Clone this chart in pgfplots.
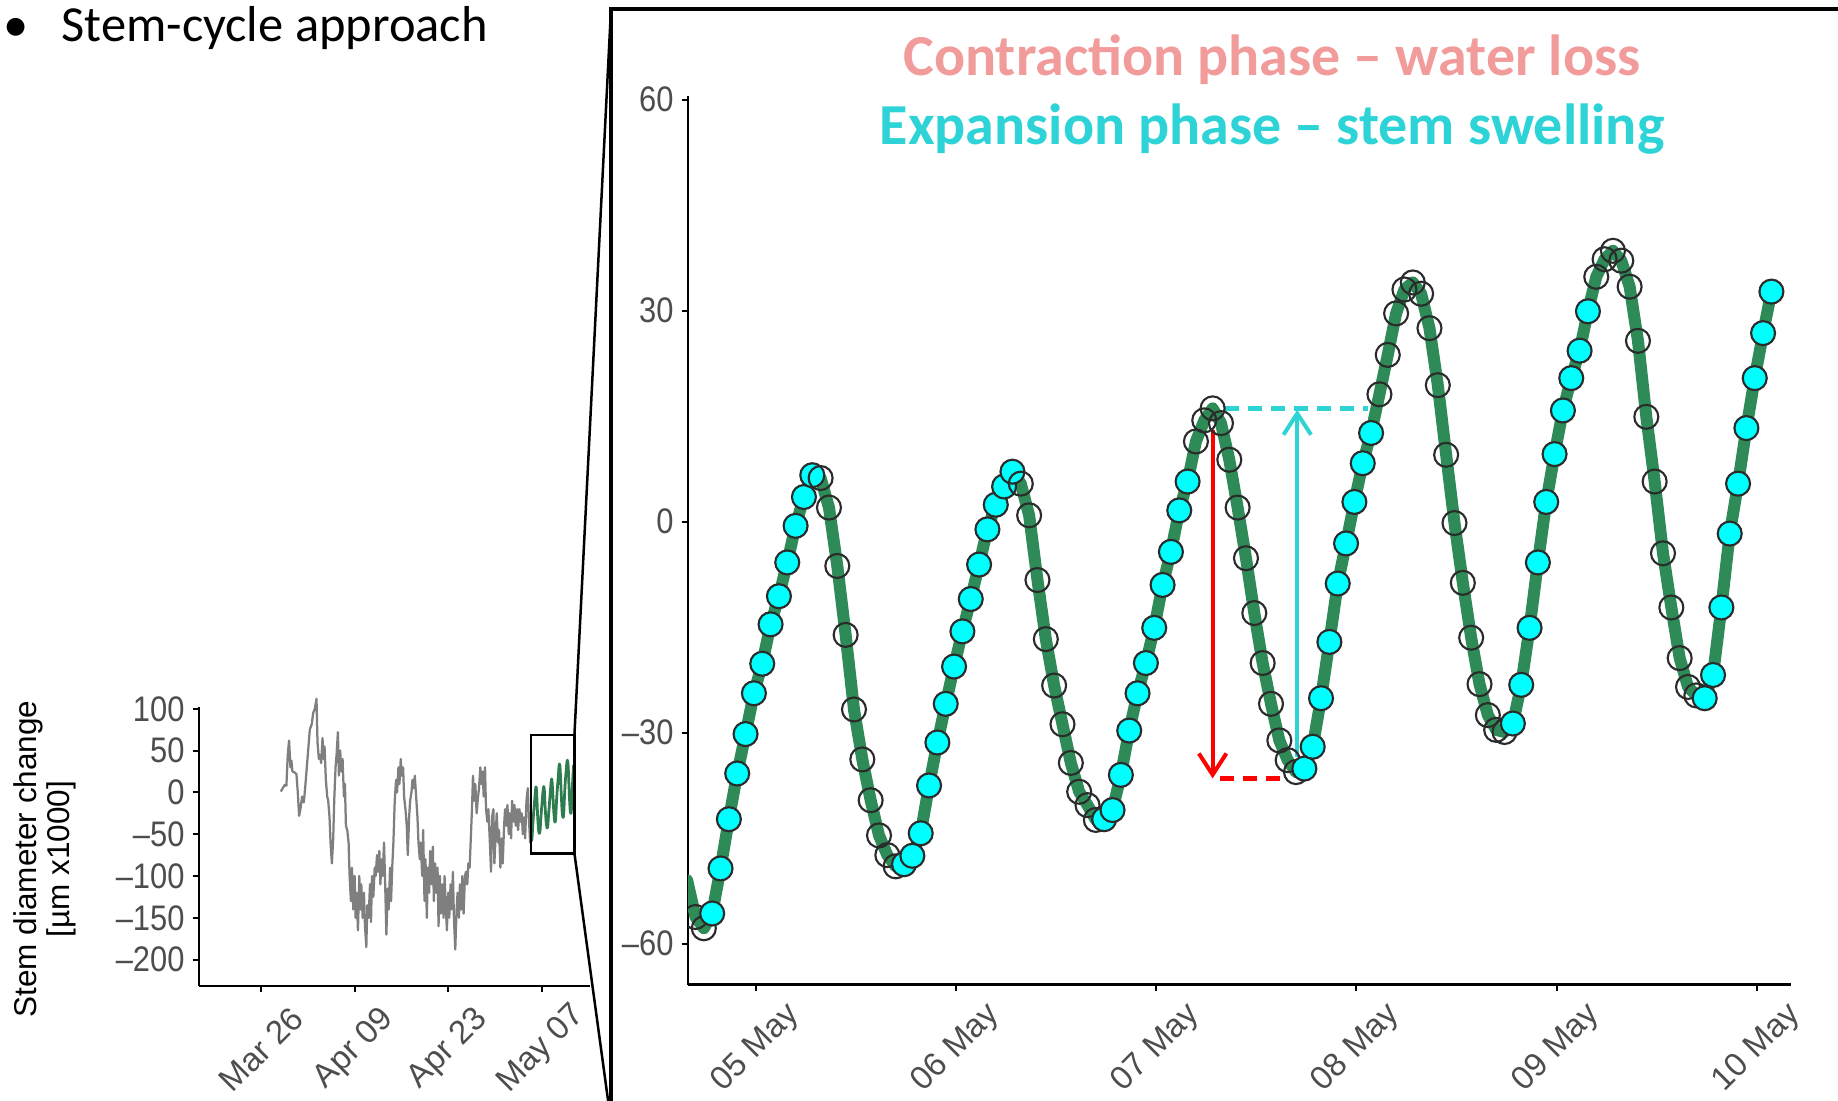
\documentclass[border=0pt]{standalone}
\usepackage{fontspec}
\usepackage{pgfplots}
\usepackage{pgfplotstable}
\pgfplotsset{compat=1.18}
\usetikzlibrary{arrows.meta,calc}
\setmainfont{Liberation Sans}
\newfontfamily\tickfont{Liberation Sans}[FakeStretch=0.87]
\newfontfamily\calibri{Carlito}
\newcommand\tickfnt{\tickfont\fontsize{14.2pt}{16pt}\selectfont}
\newcommand\xtickfnt{\fontsize{13.2pt}{15pt}\selectfont}

\definecolor{ptcyan}{HTML}{00FFFF}
\definecolor{ptedge}{HTML}{2B2B2B}
\definecolor{lngreen}{HTML}{2E8B57}
\definecolor{smgreen}{HTML}{2E7D4F}
\definecolor{lngray}{HTML}{7F7F7F}
\definecolor{tickgray}{HTML}{4D4D4D}
\definecolor{ctred}{HTML}{F29B9B}
\definecolor{excyan}{HTML}{2DD3D6}
\definecolor{arcyan}{HTML}{2ED3D3}

% hourly stem diameter change, hours from 05 May 00:00; c = contraction, e = expansion
\pgfplotstableread{
h v c
-8.25 -51.0 c
-7.25 -56.2 c
-6.25 -57.8 c
-5.25 -55.7 e
-4.25 -49.3 e
-3.25 -42.3 e
-2.25 -35.8 e
-1.25 -30.2 e
-0.25 -24.4 e
0.75 -20.2 e
1.75 -14.6 e
2.75 -10.6 e
3.75 -5.8 e
4.75 -0.6 e
5.75 3.5 e
6.75 6.6 e
7.75 6.2 c
8.75 2.0 c
9.75 -6.3 c
10.75 -16.1 c
11.75 -26.7 c
12.75 -33.8 c
13.75 -39.6 c
14.75 -44.6 c
15.75 -47.4 c
16.75 -49.0 c
17.75 -48.7 e
18.75 -47.5 e
19.75 -44.3 e
20.75 -37.5 e
21.75 -31.4 e
22.75 -25.9 e
23.75 -20.6 e
24.75 -15.6 e
25.75 -11.0 e
26.75 -6.1 e
27.75 -1.1 e
28.75 2.4 e
29.75 5.0 e
30.75 7.1 e
31.75 5.4 c
32.75 0.9 c
33.75 -8.3 c
34.75 -16.7 c
35.75 -23.3 c
36.75 -28.8 c
37.75 -34.3 c
38.75 -38.4 c
39.75 -40.3 c
40.75 -42.4 c
41.75 -42.3 e
42.75 -41.0 e
43.75 -36.0 e
44.75 -29.7 e
45.75 -24.4 e
46.75 -20.1 e
47.75 -15.1 e
48.75 -9.0 e
49.75 -4.3 e
50.75 1.6 e
51.75 5.7 e
52.75 11.4 c
53.75 14.4 c
54.75 16.1 c
55.75 14.0 c
56.75 8.8 c
57.75 2.0 c
58.75 -5.2 c
59.75 -13.0 c
60.75 -20.1 c
61.75 -25.9 c
62.75 -31.1 c
63.75 -33.9 c
64.75 -35.6 c
65.75 -35.1 e
66.75 -32.0 e
67.75 -25.1 e
68.75 -17.1 e
69.75 -8.8 e
70.75 -3.1 e
71.75 2.8 e
72.75 8.3 e
73.75 12.6 e
74.75 18.1 c
75.75 23.7 c
76.75 29.6 c
77.75 33.0 c
78.75 34.0 c
79.75 32.4 c
80.75 27.5 c
81.75 19.4 c
82.75 9.5 c
83.75 -0.2 c
84.75 -8.7 c
85.75 -16.5 c
86.75 -23.1 c
87.75 -27.5 c
88.75 -29.6 c
89.75 -29.9 c
90.75 -28.7 e
91.75 -23.2 e
92.75 -15.1 e
93.75 -5.8 e
94.75 2.8 e
95.75 9.6 e
96.75 15.8 e
97.75 20.4 e
98.75 24.3 e
99.75 29.9 e
100.75 34.8 c
101.75 37.3 c
102.75 38.5 c
103.75 37.1 c
104.75 33.4 c
105.75 25.7 c
106.75 14.9 c
107.75 5.7 c
108.75 -4.5 c
109.75 -12.2 c
110.75 -19.4 c
111.75 -23.5 c
112.75 -24.7 c
113.75 -25.1 e
114.75 -21.8 e
115.75 -12.2 e
116.75 -1.7 e
117.75 5.4 e
118.75 13.3 e
119.75 20.4 e
120.75 26.8 e
121.75 32.7 e
}\cycledata

% season record, days from 26 March
\pgfplotstableread{
d v
2.96 1
3.25 5
3.55 9
3.8 8
4.0 45
4.2 62
4.4 30
4.55 38
4.7 25
5.0 24
5.3 22
5.5 0
5.7 -28
5.9 -20
6.15 -5
6.4 -12
6.6 5
6.85 30
7.1 55
7.3 75
7.6 82
7.8 95
8.05 100
8.3 112
8.45 60
8.65 40
8.8 45
9.0 35
9.2 65
9.35 40
9.5 55
9.7 15
9.9 -5
10.05 -10
10.25 -30
10.4 -60
10.6 -85
10.8 -55
10.95 -10
11.15 30
11.3 45
11.5 72
11.65 20
11.85 50
12.0 25
12.2 40
12.4 -5
12.55 10
12.7 -40
12.9 -45
13.1 -60
13.25 -100
13.45 -130
13.6 -90
13.8 -140
14.0 -100
14.15 -150
14.3 -120
14.5 -165
14.7 -100
14.85 -140
15.0 -110
15.2 -150
15.4 -120
15.55 -160
15.75 -185
15.9 -135
16.1 -150
16.3 -110
16.45 -155
16.6 -100
16.8 -125
17.0 -90
17.15 -100
17.35 -75
17.5 -95
17.7 -70
17.85 -110
18.05 -80
18.2 -100
18.4 -60
18.6 -120
18.75 -170
18.95 -115
19.1 -140
19.3 -90
19.45 -130
19.65 -85
19.8 -60
20.0 -10
20.2 15
20.35 0
20.55 30
20.7 10
20.9 40
21.05 20
21.25 30
21.4 -5
21.6 -20
21.8 -40
21.95 -75
22.15 -30
22.3 -10
22.5 0
22.65 15
22.85 5
23.0 20
23.2 -5
23.4 -30
23.55 -60
23.75 -80
23.9 -60
24.1 -100
24.25 -45
24.45 -130
24.6 -80
24.8 -150
24.95 -90
25.15 -120
25.3 -70
25.5 -110
25.7 -65
25.85 -130
26.05 -85
26.2 -120
26.4 -90
26.55 -160
26.75 -100
26.9 -145
27.1 -110
27.3 -150
27.45 -100
27.65 -140
27.8 -165
28.0 -120
28.15 -150
28.35 -110
28.5 -140
28.7 -95
28.85 -150
29.05 -188
29.25 -140
29.4 -120
29.6 -150
29.75 -110
29.95 -140
30.1 -100
30.3 -145
30.5 -100
30.65 -95
30.85 -110
31.0 -85
31.2 -90
31.35 -60
31.55 -20
31.7 20
31.9 -10
32.05 10
32.25 -25
32.4 -10
32.6 5
32.8 30
32.95 10
33.15 25
33.3 -5
33.5 30
33.65 -20
33.85 -35
34.0 -20
34.2 -55
34.4 -95
34.55 -30
34.75 -20
34.9 -85
35.1 -50
35.25 -25
35.45 -60
35.6 -45
35.8 -90
36.0 -55
36.15 -85
36.35 -40
36.5 -20
36.7 -40
36.85 -15
37.05 -50
37.2 -25
37.4 -55
37.55 -10
37.75 -35
37.9 -15
38.1 -40
38.3 -20
38.45 -45
38.65 -20
38.8 -35
39.0 -25
39.15 -50
39.35 -30
39.5 -55
39.7 -10
39.9 5
40.05 -30
40.25 -60
40.4 -45
}\seasondata

\pgfplotsset{
  ggclassic/.style={
    scale only axis,
    axis x line=bottom, axis y line=left,
    axis line style={-, line width=1pt, black},
    tick align=outside,
    major tick length=2.6pt,
    tick style={line width=0.8pt, black},
    ticklabel style={text=tickgray},
    yticklabel style={font=\tickfnt, anchor=east, inner sep=0pt, xshift=-3pt},
    xticklabel style={font=\xtickfnt, yshift=-22.8pt, rotate=45, anchor=center, inner sep=0pt},
  }
}

\begin{document}
\begin{tikzpicture}
\path[use as bounding box] (0pt,0pt) rectangle (735.2pt,-440pt);
\clip (0pt,0pt) rectangle (735.2pt,-440pt);

% slide bullet
\node[anchor=base west, inner sep=0pt, font=\calibri\fontsize{20.2pt}{24pt}\selectfont] at (1.2pt,-16.4pt) {•};
\node[anchor=base west, inner sep=0pt, font=\calibri\fontsize{20.2pt}{24pt}\selectfont] at (24.4pt,-16.4pt) {Stem-cycle approach};

% frame of the enlarged view
\draw[line width=1.6pt] (244.4pt,-460pt) -- (244.4pt,-3.6pt) -- (760pt,-3.6pt);

% whole season
\begin{axis}[ggclassic,
  at={(79.6pt,-394.3pt)}, anchor=south west,
  width=156.4pt, height=111.6pt,
  xmin=-9.27, xmax=49.2, ymin=-231.3, ymax=102.4,
  clip=false,
  xtick={0,14,28,42}, xticklabels={Mar 26,Apr 09,Apr 23,May 07},
  ytick={-200,-150,-100,-50,0,50,100},
  yticklabels={–200,–150,–100,–50,0,50,100},
]
\addplot[lngray, line width=0.9pt, line join=round] table[x=d, y=v] {\seasondata};
\addplot[smgreen, line width=1.1pt, line join=round] table[x expr=40.38+(\thisrow{h}+8.15)/20.38, y=v] {\cycledata};
\draw[line width=1pt] (axis cs:40.38,-72.9) rectangle (axis cs:46.87,68.6);
\coordinate (zTR) at (axis cs:46.87,68.6);
\coordinate (zBR) at (axis cs:46.87,-72.9);
\end{axis}

\node[rotate=90, align=center, inner sep=0pt, font=\fontsize{12.6pt}{13.2pt}\selectfont] at (17.8pt,-343.6pt) {Stem diameter change\\{[}µm x1000{]}};

% connectors from the box to the enlarged view
\draw[line width=1pt] (zTR) -- (244.4pt,-3.6pt);
\draw[line width=1pt] (zBR) -- ($(zBR)!1.1!(243.2pt,-440pt)$);

% five days of stem cycles
\begin{axis}[ggclassic,
  at={(275.2pt,-393.8pt)}, anchor=south west,
  width=441.2pt, height=355.4pt,
  xmin=-8.15, xmax=124.1, ymin=-65.8, ymax=60.5,
  clip marker paths=true,
  xtick={0,24,48,72,96,120},
  xticklabels={05 May,06 May,07 May,08 May,09 May,10 May},
  ytick={-60,-30,0,30,60},
  yticklabels={–60,–30,0,30,60},
]
\draw[red, line width=1.6pt, -{Straight Barb[length=8.5pt,width=11pt]}] (axis cs:54.75,13.0) -- (axis cs:54.75,-36.5);
\draw[red, line width=2pt, dash pattern=on 5.6pt off 3.6pt] (axis cs:55.6,-36.5) -- (axis cs:63.4,-36.5);
\draw[arcyan, line width=1.6pt, -{Straight Barb[length=8.5pt,width=11pt]}] (axis cs:64.9,-33.4) -- (axis cs:64.9,15.9);
\draw[arcyan, line width=2pt, dash pattern=on 5.6pt off 3.6pt] (axis cs:56.2,16.1) -- (axis cs:73.4,16.1);
\addplot[lngreen, line width=4.8pt, line join=round, line cap=round] table[x=h, y=v] {\cycledata};
\addplot[only marks, scatter, scatter src=explicit symbolic, mark size=4.8pt,
  mark options={line width=0.85pt},
  scatter/classes={c={mark=o, draw=ptedge}, e={mark=*, draw=ptedge, fill=ptcyan}}]
  table[x=h, y=v, meta=c] {\cycledata};
\end{axis}

\node[anchor=base, inner sep=0pt, text=ctred, font=\calibri\bfseries\fontsize{23.2pt}{28pt}\selectfont] at (508.8pt,-30pt) {Contraction phase – water loss};
\node[anchor=base, inner sep=0pt, text=excyan, font=\calibri\bfseries\fontsize{23.2pt}{28pt}\selectfont] at (508.8pt,-57.6pt) {Expansion phase – stem swelling};
\end{tikzpicture}
\end{document}
